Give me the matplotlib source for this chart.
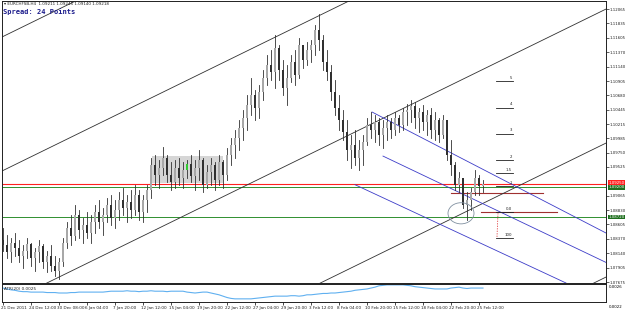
import matplotlib
matplotlib.use("Agg")
import matplotlib.pyplot as plt
from matplotlib.patches import Rectangle, Ellipse
from matplotlib.transforms import blended_transform_factory as btf

# ---------------- data ----------------
high = [1.0854,1.0843,1.0838,1.0847,1.0835,1.0827,1.0838,1.0831,1.0822,1.0835,
        1.0828,1.0818,1.0827,1.0810,1.0806,1.0838,1.0864,1.0875,1.0891,1.0883,
        1.0870,1.0880,1.0875,1.0891,1.0899,1.0886,1.0902,1.0907,1.0899,1.0912,
        1.0918,1.0907,1.0915,1.0923,1.0915,1.0907,1.0923,1.0967,1.0971,1.0963,
        1.0984,1.0971,1.0960,1.0963,1.0967,1.0960,1.0963,1.0971,1.0963,1.0979,
        1.0967,1.0955,1.0967,1.0960,1.0971,1.0963,1.0983,1.0999,1.1012,1.1028,
        1.1044,1.1068,1.1095,1.1076,1.1084,1.1108,1.1132,1.1140,1.1165,1.1149,
        1.1124,1.1116,1.1132,1.1140,1.1160,1.1144,1.1153,1.1157,1.1181,1.1199,
        1.1165,1.1140,1.1116,1.1092,1.1068,1.1044,1.1028,1.1004,1.1012,1.0996,
        1.1004,1.1031,1.1041,1.1036,1.1031,1.1028,1.1036,1.1031,1.1041,1.1036,
        1.1047,1.1054,1.1060,1.1057,1.1047,1.1052,1.1044,1.1047,1.1041,1.1031,
        1.1036,1.1028,1.0996,1.0960,1.0944,1.0931,1.0912,1.0918,1.0947,1.0939,
        1.0931]
low = [1.0818,1.0806,1.0799,1.0810,1.0799,1.0790,1.0806,1.0794,1.0786,1.0799,
       1.0790,1.0783,1.0786,1.0777,1.0773,1.0794,1.0822,1.0827,1.0835,1.0838,
       1.0831,1.0838,1.0831,1.0847,1.0854,1.0843,1.0864,1.0859,1.0854,1.0867,
       1.0875,1.0864,1.0870,1.0875,1.0867,1.0864,1.0880,1.0902,1.0923,1.0918,
       1.0939,1.0928,1.0915,1.0918,1.0923,1.0918,1.0934,1.0928,1.0915,1.0931,
       1.0912,1.0918,1.0923,1.0915,1.0923,1.0918,1.0931,1.0955,1.0967,1.0979,
       1.0996,1.1012,1.1036,1.1028,1.1031,1.1060,1.1084,1.1092,1.1079,1.1092,
       1.1068,1.1052,1.1089,1.1084,1.1095,1.1112,1.1116,1.1121,1.1132,1.1140,
       1.1108,1.1092,1.1060,1.1036,1.1012,1.0996,1.0963,1.0951,1.0955,1.0947,
       1.0955,1.0988,1.0999,1.0992,1.0988,1.0983,1.0996,1.0999,1.1004,1.1008,
       1.1012,1.1020,1.1025,1.1015,1.1008,1.1012,1.1004,1.0999,1.0996,1.0992,
       1.0999,1.0963,1.0939,1.0915,1.0912,1.0886,1.0867,1.0883,1.0907,1.0907,
       1.0912]
opens = [1.0835,1.0827,1.0815,1.0831,1.0822,1.0809,1.0818,1.0828,1.0806,1.0815,
         1.0825,1.0799,1.0810,1.0794,1.0786,1.0799,1.0831,1.0854,1.0841,1.0875,
         1.0851,1.0859,1.0847,1.0864,1.0880,1.0864,1.0875,1.0891,1.0870,1.0883,
         1.0899,1.0886,1.0896,1.0883,1.0907,1.0880,1.0899,1.0915,1.0955,1.0939,
         1.0951,1.0967,1.0939,1.0928,1.0951,1.0934,1.0947,1.0957,1.0938,1.0951,
         1.0963,1.0923,1.0944,1.0955,1.0931,1.0960,1.0939,1.0971,1.0988,1.0999,
         1.1015,1.1031,1.1052,1.1068,1.1047,1.1073,1.1095,1.1116,1.1105,1.1144,
         1.1108,1.1079,1.1095,1.1121,1.1100,1.1149,1.1124,1.1140,1.1149,1.1173,
         1.1157,1.1121,1.1105,1.1073,1.1047,1.1028,1.1008,1.0979,1.0988,1.0967,
         1.0979,1.0992,1.1020,1.1012,1.1025,1.1004,1.1015,1.1025,1.1012,1.1031,
         1.1020,1.1041,1.1044,1.1050,1.1031,1.1041,1.1025,1.1036,1.1012,1.1028,
         1.1004,1.1028,1.0971,1.0955,1.0923,1.0934,1.0891,1.0899,1.0912,1.0934,
         1.0922]
closes = [1.0827,1.0815,1.0831,1.0822,1.0809,1.0818,1.0828,1.0806,1.0815,1.0825,
          1.0799,1.0810,1.0794,1.0786,1.0799,1.0831,1.0854,1.0841,1.0875,1.0851,
          1.0859,1.0847,1.0864,1.0880,1.0864,1.0875,1.0891,1.0870,1.0883,1.0899,
          1.0886,1.0896,1.0883,1.0907,1.0880,1.0899,1.0915,1.0955,1.0939,1.0951,
          1.0967,1.0939,1.0928,1.0951,1.0934,1.0947,1.0957,1.0938,1.0951,1.0963,
          1.0923,1.0944,1.0955,1.0931,1.0960,1.0939,1.0971,1.0988,1.0999,1.1015,
          1.1031,1.1052,1.1068,1.1047,1.1073,1.1095,1.1116,1.1105,1.1144,1.1108,
          1.1079,1.1095,1.1121,1.1100,1.1149,1.1124,1.1140,1.1149,1.1173,1.1157,
          1.1121,1.1105,1.1073,1.1047,1.1028,1.1008,1.0979,1.0988,1.0967,1.0979,
          1.0992,1.1020,1.1012,1.1025,1.1004,1.1015,1.1025,1.1012,1.1031,1.1020,
          1.1041,1.1044,1.1050,1.1031,1.1041,1.1025,1.1036,1.1012,1.1028,1.1004,
          1.1028,1.0971,1.0955,1.0923,1.0934,1.0891,1.0899,1.0912,1.0934,1.0922,
          1.0925]
highlight_bar = 46

atr = [0.00251,0.00249,0.00247,0.00246,0.00244,0.00243,0.00243,0.00242,0.00242,0.00242,
       0.00242,0.00241,0.00241,0.00241,0.00240,0.00240,0.00240,0.00241,0.00241,0.00242,
       0.00242,0.00242,0.00242,0.00242,0.00242,0.00242,0.00243,0.00244,0.00244,0.00244,
       0.00244,0.00245,0.00244,0.00244,0.00243,0.00244,0.00244,0.00245,0.00244,0.00244,
       0.00244,0.00243,0.00244,0.00244,0.00244,0.00244,0.00242,0.00241,0.00240,0.00241,
       0.00242,0.00242,0.00240,0.00238,0.00236,0.00233,0.00230,0.00228,0.00227,0.00227,
       0.00227,0.00227,0.00227,0.00228,0.00229,0.00230,0.00231,0.00232,0.00233,0.00233,
       0.00233,0.00233,0.00234,0.00234,0.00233,0.00234,0.00236,0.00236,0.00237,0.00238,
       0.00239,0.00239,0.00240,0.00240,0.00241,0.00242,0.00243,0.00244,0.00246,0.00247,
       0.00248,0.00249,0.00251,0.00253,0.00256,0.00257,0.00258,0.00258,0.00258,0.00258,
       0.00258,0.00257,0.00256,0.00254,0.00253,0.00252,0.00251,0.00250,0.00249,0.00249,
       0.00249,0.00249,0.00251,0.00252,0.00253,0.00251,0.00250,0.00251,0.00251,0.00251,
       0.00251]

price_ticks = [1.12065,1.11835,1.11605,1.11370,1.11140,1.10905,1.10680,1.10445,1.10215,
               1.09985,1.09750,1.09525,1.09065,1.08830,1.08605,1.08370,1.08140,1.07905,1.07675]
date_labels = ["21 Dec 2011","24 Dec 12:00","30 Dec 08:00","6 Jan 04:00","7 Jan 20:00",
               "12 Jan 12:00","15 Jan 04:00","19 Jan 20:00","22 Jan 12:00","27 Jan 04:00",
               "29 Jan 20:00","3 Feb 12:00","8 Feb 04:00","10 Feb 20:00","15 Feb 12:00",
               "18 Feb 04:00","22 Feb 20:00","25 Feb 12:00"]
bars_per_label = 7

# horizontal levels
red_level = 1.0925
green_levels = [1.0920, 1.0872]
brown_segments = [(112, 135, 1.0910), (119.5, 138.5, 1.0880)]

# equidistant channel (black)
chan_bars = [0, 85]
chan_prices = [1.09468, 1.12147]
chan_width = 0.02155
chan_offsets = [-1, 0, 1, 2, 3]

# descending blue channel
blue_lines = [((92.25, 1.10409), (150.75, 1.08463)),
              ((95.0, 1.09700), (150.75, 1.07990)),
              ((88.0, 1.09240), (140.75, 1.07659))]

# fibo expansion
fib_zero = 1.0880
fib_unit = 0.0042
fib_levels = [5, 4, 3, 2, 1.5, 1, 0, -1]
fib_texts = ["5", "4", "3", "2", "1.5", "1", "0.0", "100"]
fib_x = (123.25, 127.5)
fib_diag = ((123.5, 1.0840), (123.75, 1.0878))

# range box and ellipse
box = (37.25, 55.0, 1.0927, 1.0970)
ellipse = (114.5, 1.0878, 6.5, 0.0034)

# ---------------- figure ----------------
W, H = 625, 312
fig = plt.figure(figsize=(W / 100, H / 100), dpi=100, facecolor="white")
ax = fig.add_axes([2 / W, (H - 283) / H, 604 / W, 282 / H])
axa = fig.add_axes([2 / W, (H - 302) / H, 604 / W, 18 / H], sharex=ax)

x0, x1 = -0.25, 150.75
ax.set_xlim(x0, x1)
ax.set_ylim(1.07659, 1.12194)

for a in (ax, axa):
    a.set_facecolor("white")
    for s in a.spines.values():
        s.set_linewidth(0.7)
        s.set_color("#202020")

# box
ax.add_patch(Rectangle((box[0], box[2]), box[1] - box[0], box[3] - box[2],
                       facecolor="#d6d6d6", edgecolor="none", zorder=0.5))

# horizontal lines
ax.axhline(red_level, color="#ff2020", lw=0.8, zorder=1)
for g in green_levels:
    ax.axhline(g, color="#2f8f2f", lw=0.7, zorder=1)
for xa, xb, p in brown_segments:
    ax.plot([xa, xb], [p, p], color="#a03030", lw=0.8, zorder=1)

# black equidistant channel
slope = (chan_prices[1] - chan_prices[0]) / (chan_bars[1] - chan_bars[0])
for k in chan_offsets:
    p0 = chan_prices[0] - k * chan_width
    ax.plot([x0, x1], [p0 + slope * (x0 - chan_bars[0]), p0 + slope * (x1 - chan_bars[0])],
            color="#303030", lw=0.6, zorder=1)

# blue lines
for (xa, ya), (xb, yb) in blue_lines:
    ax.plot([xa, xb], [ya, yb], color="#3c3cc8", lw=0.6, zorder=1)

# candles
for i in range(len(high)):
    ax.plot([i, i], [low[i], high[i]], color="#303030", lw=0.6, zorder=2)
    o, c = opens[i], closes[i]
    if i == highlight_bar:
        fc = "#33cc33"
    else:
        fc = "#a8a8a8" if c >= o else "#303030"
    ax.add_patch(Rectangle((i - 0.22, min(o, c)), 0.44, max(abs(c - o), 0.00005),
                           facecolor=fc, edgecolor="none", zorder=3))

# fibo
for lv, t in zip(fib_levels, fib_texts):
    p = fib_zero + lv * fib_unit
    ax.plot(fib_x, [p, p], color="#202020", lw=0.6, zorder=2)
    ax.text(fib_x[1] - 0.3, p + 0.0002, t, fontsize=2.8, ha="right", va="bottom", color="#202020")
ax.plot([fib_diag[0][0], fib_diag[1][0]], [fib_diag[0][1], fib_diag[1][1]],
        color="#e04040", lw=0.6, ls=(0, (1.5, 1.5)), zorder=2)

# ellipse
ax.add_patch(Ellipse((ellipse[0], ellipse[1]), ellipse[2], ellipse[3], fill=False,
                     edgecolor="#8090a0", lw=0.6, zorder=4))

# price axis
ax.yaxis.tick_right()
ax.set_yticks(price_ticks)
ax.set_yticklabels([f"{t:.5f}" for t in price_ticks])
ax.tick_params(axis="y", labelsize=2.8, length=2, width=0.5, pad=0.8, colors="#202020")
ax.tick_params(axis="x", bottom=False, labelbottom=False)

tr = btf(ax.transAxes, ax.transData)
ax.text(1.004, red_level + 0.00025, f"{red_level:.5f}", transform=tr, fontsize=2.8, color="white",
        va="center", ha="left", bbox=dict(boxstyle="square,pad=0.12", fc="#ff2020", ec="none"))
for g in green_levels:
    ax.text(1.004, g, f"{g:.5f}", transform=tr, fontsize=2.8, color="white", va="center",
            ha="left", bbox=dict(boxstyle="square,pad=0.12", fc="#1f6f1f", ec="none"))

# header
fig.text(4 / W, 1 - 4 / H, "\u25be EURCHFSB,H4  1.09211 1.09245 1.09140 1.09218",
         fontsize=3.0, va="center", ha="left", color="#202020")
fig.text(3 / W, 1 - 12 / H, "Spread: 24 Points", fontsize=5.0, family="DejaVu Sans Mono",
         weight="bold", va="center", ha="left", color="#1c1c8c")

# ATR panel
axa.plot(range(len(atr)), atr, color="#60b0f0", lw=0.8)
axa.set_ylim(0.0022, 0.0026)
axa.yaxis.tick_right()
axa.set_yticks([])
axa.text(1.004, 0.85, "0.0026", transform=axa.transAxes, fontsize=2.8, va="center", ha="left")
axa.text(1.004, -0.25, "0.0022", transform=axa.transAxes, fontsize=2.8, va="center", ha="left")
axa.text(0.004, 0.72, f"ATR(20) {atr[-1]:.4f}", transform=axa.transAxes, fontsize=3.0,
         va="center", ha="left", color="#202020")
ticks = [k * bars_per_label for k in range(len(date_labels))]
axa.set_xticks(ticks)
axa.set_xticklabels([])
axa.tick_params(axis="x", length=2, width=0.5)
trx = btf(axa.transData, axa.transAxes)
for t, lab in zip(ticks, date_labels):
    axa.text(t - 0.5, -0.2, lab, transform=trx, fontsize=3.0, ha="left", va="top", color="#202020")

fig.savefig("out.png", dpi=100, facecolor="white")
